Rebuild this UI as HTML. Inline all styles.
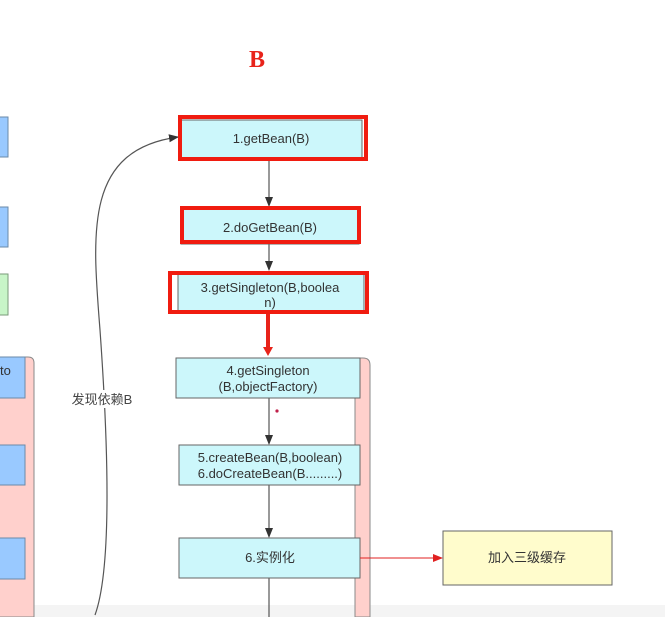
<!DOCTYPE html>
<html><head><meta charset="utf-8"><style>body{margin:0;background:#fff}svg{display:block}</style></head><body>
<svg width="665" height="617" viewBox="0 0 665 617" xmlns="http://www.w3.org/2000/svg" font-family="Liberation Sans, Noto Sans CJK SC, sans-serif">
<defs>
<marker id="a" markerWidth="10" markerHeight="10" refX="9" refY="5" orient="auto" markerUnits="userSpaceOnUse"><path d="M0,1 L10,5 L0,9 z" fill="#333"/></marker>
<marker id="r" markerWidth="10" markerHeight="10" refX="9" refY="5" orient="auto" markerUnits="userSpaceOnUse"><path d="M0,1 L10,5 L0,9 z" fill="#e02020"/></marker>
</defs>
<rect x="0" y="605" width="665" height="12" fill="#f4f4f4"/>
<text x="257" y="67" font-family="Liberation Serif, serif" font-weight="bold" font-size="24" fill="#e8231a" text-anchor="middle">B</text>
<!-- left column -->
<rect x="-2" y="117" width="10" height="40" fill="#99c9ff" stroke="#6a8aaa"/>
<rect x="-2" y="207" width="10" height="40" fill="#99c9ff" stroke="#6a8aaa"/>
<rect x="-2" y="274" width="10" height="41" fill="#c8f5c8" stroke="#7a9a7a"/>
<path d="M-2,357 H28 Q34,357 34,363 V617 H-2 Z" fill="#ffd0cc" stroke="#8a8a8a"/>
<rect x="-2" y="357" width="27" height="41" fill="#99c9ff" stroke="#6a8aaa"/>
<text x="0" y="375" font-size="13" fill="#333">to</text>
<rect x="-2" y="445" width="27" height="40" fill="#99c9ff" stroke="#6a8aaa"/>
<rect x="-2" y="538" width="27" height="41" fill="#99c9ff" stroke="#6a8aaa"/>
<!-- curve -->
<path d="M95,615 C115,560 105,400 100,330 C92,230 85,150 178,137" fill="none" stroke="#555" stroke-width="1.2" marker-end="url(#a)"/>
<rect x="70" y="390" width="64" height="18" fill="#fff"/>
<text x="102" y="404" font-size="13" fill="#444" text-anchor="middle">发现依赖B</text>
<!-- pink bar right -->
<path d="M355,358 H363 Q370,358 370,365 V617 H355 Z" fill="#ffd0cc" stroke="#8a8a8a"/>
<!-- connectors -->
<line x1="269" y1="160" x2="269" y2="206" stroke="#333" marker-end="url(#a)"/>
<line x1="269" y1="244" x2="269" y2="270" stroke="#333" marker-end="url(#a)"/>
<line x1="268" y1="313" x2="268" y2="348" stroke="#e8231a" stroke-width="4"/>
<path d="M263,347 L273,347 L268,356 z" fill="#e8231a"/>
<line x1="269" y1="398" x2="269" y2="444" stroke="#333" marker-end="url(#a)"/>
<line x1="269" y1="485" x2="269" y2="537" stroke="#333" marker-end="url(#a)"/>
<line x1="269" y1="578" x2="269" y2="617" stroke="#333"/>
<circle cx="277" cy="411" r="1.6" fill="#c0204a"/>
<!-- boxes -->
<rect x="180" y="120" width="182" height="38" fill="#ccf7fb" stroke="#666"/>
<rect x="180" y="117" width="186" height="42" fill="none" stroke="#f01c10" stroke-width="4"/>
<text x="271" y="143" font-size="13" fill="#333" text-anchor="middle">1.getBean(B)</text>
<rect x="181" y="208" width="178" height="36" fill="#ccf7fb" stroke="#666"/>
<rect x="182" y="208" width="177" height="34" fill="none" stroke="#f01c10" stroke-width="4"/>
<text x="270" y="232" font-size="13" fill="#333" text-anchor="middle">2.doGetBean(B)</text>
<rect x="178" y="273" width="186" height="38" fill="#ccf7fb" stroke="#666"/>
<rect x="170" y="273" width="197" height="39" fill="none" stroke="#f01c10" stroke-width="4"/>
<text x="270" y="292" font-size="13" fill="#333" text-anchor="middle">3.getSingleton(B,boolea</text>
<text x="270" y="307" font-size="13" fill="#333" text-anchor="middle">n)</text>
<rect x="176" y="358" width="184" height="40" fill="#ccf7fb" stroke="#666"/>
<text x="268" y="375" font-size="13" fill="#333" text-anchor="middle">4.getSingleton</text>
<text x="268" y="391" font-size="13" fill="#333" text-anchor="middle">(B,objectFactory)</text>
<rect x="179" y="445" width="181" height="40" fill="#ccf7fb" stroke="#666"/>
<text x="270" y="462" font-size="13" fill="#333" text-anchor="middle">5.createBean(B,boolean)</text>
<text x="270" y="478" font-size="13" fill="#333" text-anchor="middle">6.doCreateBean(B.........)</text>
<rect x="179" y="538" width="181" height="40" fill="#ccf7fb" stroke="#666"/>
<text x="270" y="562" font-size="13" fill="#333" text-anchor="middle">6.实例化</text>
<line x1="360" y1="558" x2="442" y2="558" stroke="#e02020" marker-end="url(#r)"/>
<rect x="443" y="531" width="169" height="54" fill="#fffccc" stroke="#666"/>
<text x="527" y="562" font-size="13" fill="#333" text-anchor="middle">加入三级缓存</text>
</svg>
</body></html>
